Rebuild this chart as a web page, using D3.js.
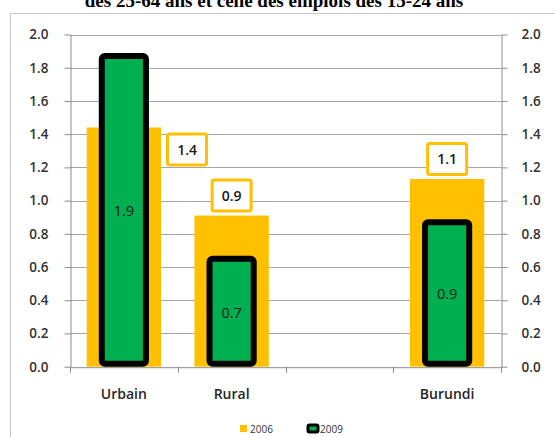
<!DOCTYPE html>
<html>
<head>
<meta charset="utf-8">
<script src="https://cdn.jsdelivr.net/npm/d3@7"></script>
<style>
  body { margin: 0; background: #fff; }
  svg { display: block; }
</style>
</head>
<body>
<div id="chart"></div>
<script>
// Chart data.
var categories = ["Urbain", "Rural", "", "Burundi"];
var values2006 = [1.44, 0.91, null, 1.13];
var values2009 = [1.87, 0.65, null, 0.87];
var yTicks = [0, 0.2, 0.4, 0.6, 0.8, 1.0, 1.2, 1.4, 1.6, 1.8, 2.0];
var labelSide2006 = ["right", "top", null, "top"];
var seriesNames = ["2006", "2009"];

var width = 555, height = 437;
var margin = {left: 70, right: 54, top: 34.5, bottom: 70.3};
var orange = "#FFC000", green = "#00B050";

var svg = d3.select("#chart").append("svg")
        .attr("width", width)
        .attr("height", height);

// Title (cut off at the top of the picture, as in the source).
svg.append("text")
        .attr("x", 274)
        .attr("y", 7)
        .attr("text-anchor", "middle")
        .style("font-family", "'Liberation Serif', serif")
        .style("font-weight", "bold")
        .style("font-size", "19px")
        .text("des 25-64 ans et celle des emplois des 15-24 ans");

// Chart frame.
svg.append("path")
        .attr("d", "M10.5," + height + "V13.5H" + width)
        .attr("fill", "none")
        .attr("stroke", "#c8c8c8")
        .attr("stroke-width", 1);

var x = d3.scaleBand()
        .domain(categories.map(function(d, i) { return i; }))
        .range([margin.left, width - margin.right])
        .padding(0);
var y = d3.scaleLinear()
        .domain([0, 2])
        .range([height - margin.bottom, margin.top]);

// Gridlines.
svg.append("g").selectAll("line")
        .data(yTicks.slice(1))
        .enter().append("line")
        .attr("x1", margin.left)
        .attr("x2", width - margin.right)
        .attr("y1", function(d) { return Math.round(y(d)) + 0.5; })
        .attr("y2", function(d) { return Math.round(y(d)) + 0.5; })
        .attr("stroke", "#a6a6a6")
        .attr("stroke-width", 1);

// Left and right axes.
var axisFont = function(g) {
    g.select(".domain").attr("stroke", "#8c8c8c");
    g.selectAll(".tick line").attr("stroke", "#8c8c8c");
    g.selectAll(".tick text")
            .style("font-family", "'Open Sans', sans-serif")
            .style("font-weight", "600")
            .style("font-size", "13.5px")
            .attr("fill", "#333");
};
svg.append("g")
        .attr("transform", "translate(" + (margin.left + 0.5) + ",0)")
        .call(d3.axisLeft(y).tickValues(yTicks).tickFormat(d3.format(".1f")).tickSize(6).tickSizeOuter(0).tickPadding(16))
        .call(axisFont);
svg.append("g")
        .attr("transform", "translate(" + (width - margin.right + 0.5) + ",0)")
        .call(d3.axisRight(y).tickValues(yTicks).tickFormat(d3.format(".1f")).tickSize(6).tickSizeOuter(0).tickPadding(14))
        .call(axisFont);

// Bars 2006.
var w06 = x.bandwidth() * 0.69;
var bars = svg.append("g");
bars.selectAll("rect.y2006")
        .data(values2006.map(function(v, i) { return {v: v, i: i}; }).filter(function(d) { return d.v !== null; }))
        .enter().append("rect")
        .attr("class", "y2006")
        .attr("x", function(d) { return x(d.i) + x.bandwidth() / 2 - w06 / 2; })
        .attr("y", function(d) { return y(d.v); })
        .attr("width", w06)
        .attr("height", function(d) { return y(0) - y(d.v); })
        .attr("fill", orange);

// Bars 2009.
var w09 = x.bandwidth() * 0.41;
var sw = 6;
bars.selectAll("rect.y2009")
        .data(values2009.map(function(v, i) { return {v: v, i: i}; }).filter(function(d) { return d.v !== null; }))
        .enter().append("rect")
        .attr("class", "y2009")
        .attr("x", function(d) { return x(d.i) + x.bandwidth() / 2 - w09 / 2; })
        .attr("y", function(d) { return y(d.v); })
        .attr("width", w09)
        .attr("height", function(d) { return y(0) - y(d.v) - sw / 2; })
        .attr("rx", 3)
        .attr("fill", green)
        .attr("stroke", "#000")
        .attr("stroke-width", sw);

// Bottom axis.
svg.append("g")
        .attr("transform", "translate(0," + (y(0) + 0.5) + ")")
        .call(d3.axisBottom(x).tickSize(0).tickFormat(""))
        .call(function(g) {
            g.select(".domain").attr("stroke", "#8c8c8c");
            g.selectAll(".tick").remove();
        });
svg.append("g").selectAll("line")
        .data(d3.range(0, categories.length + 1))
        .enter().append("line")
        .attr("x1", function(i) { return Math.round(margin.left + i * x.step()) + 0.5; })
        .attr("x2", function(i) { return Math.round(margin.left + i * x.step()) + 0.5; })
        .attr("y1", y(0))
        .attr("y2", y(0) + 6)
        .attr("stroke", "#8c8c8c");

// Category labels.
svg.append("g").selectAll("text")
        .data(categories)
        .enter().append("text")
        .attr("x", function(d, i) { return x(i) + x.bandwidth() / 2; })
        .attr("y", y(0) + 32)
        .attr("text-anchor", "middle")
        .style("font-family", "'Open Sans', sans-serif")
        .style("font-weight", "600")
        .style("font-size", "14px")
        .attr("fill", "#262626")
        .text(function(d) { return d; });

// Labels 2009 inside green bars.
svg.append("g").selectAll("text")
        .data(values2009.map(function(v, i) { return {v: v, i: i}; }).filter(function(d) { return d.v !== null; }))
        .enter().append("text")
        .attr("x", function(d) { return x(d.i) + x.bandwidth() / 2; })
        .attr("y", function(d) { return (y(d.v) + y(0)) / 2 + 5; })
        .attr("text-anchor", "middle")
        .style("font-family", "'Open Sans', sans-serif")
        .style("font-size", "14.5px")
        .attr("fill", "#1a1a1a")
        .text(function(d) { return d3.format(".1f")(d.v); });

// Labels 2006 in orange boxes.
var boxW = 42, boxH = 34;
var lab = svg.append("g").selectAll("g")
        .data(values2006.map(function(v, i) { return {v: v, i: i, side: labelSide2006[i]}; }).filter(function(d) { return d.v !== null; }))
        .enter().append("g")
        .attr("transform", function(d) {
            var cx = x(d.i) + x.bandwidth() / 2, cy;
            if(d.side === "right") { cx = cx + w06 / 2 + boxW / 2 + 5; cy = y(d.v) + 22; }
            else { cy = y(d.v) - 20; }
            return "translate(" + cx + "," + cy + ")";
        });
lab.append("rect")
        .attr("x", -boxW / 2 + 1.5)
        .attr("y", -boxH / 2 + 1.5)
        .attr("width", boxW - 3)
        .attr("height", boxH - 3)
        .attr("rx", 2)
        .attr("fill", "#fff")
        .attr("stroke", orange)
        .attr("stroke-width", 3);
lab.append("text")
        .attr("y", 5)
        .attr("text-anchor", "middle")
        .style("font-family", "'Open Sans', sans-serif")
        .style("font-weight", "600")
        .style("font-size", "14px")
        .attr("fill", "#1a1a1a")
        .text(function(d) { return d3.format(".1f")(d.v); });

// Legend.
var legend = svg.append("g").attr("transform", "translate(0,430)");
legend.append("rect").attr("x", 240).attr("y", -5).attr("width", 7).attr("height", 7).attr("fill", orange);
legend.append("text").attr("x", 250).attr("y", 3).text(seriesNames[0]);
legend.append("rect").attr("x", 308).attr("y", -5).attr("width", 10).attr("height", 7).attr("rx", 1.5)
        .attr("fill", green).attr("stroke", "#000").attr("stroke-width", 3);
legend.append("text").attr("x", 320).attr("y", 3).text(seriesNames[1]);
legend.selectAll("text")
        .style("font-family", "'Open Sans', sans-serif")
        .style("font-size", "10px")
        .attr("fill", "#333");
</script>
</body>
</html>
